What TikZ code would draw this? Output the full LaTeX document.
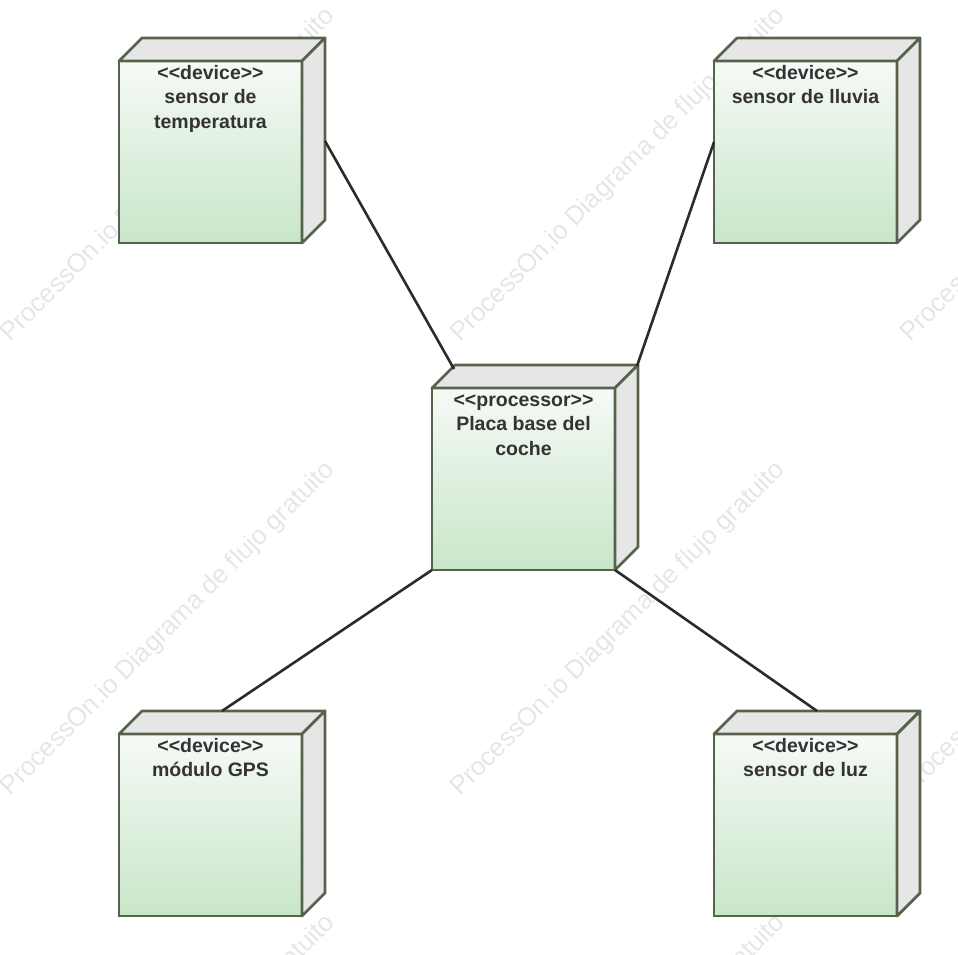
\documentclass[tikz,border=0pt]{standalone}
\usepackage{fontspec}
\setmainfont{Liberation Sans}[Ligatures=NoCommon]
\usetikzlibrary{calc}
\definecolor{bordc}{HTML}{56634C}
\definecolor{topg}{HTML}{F6FAF6}
\definecolor{botg}{HTML}{C8E6C9}
\definecolor{sidec}{HTML}{E6E6E6}
\definecolor{txtc}{HTML}{333333}
\definecolor{linec}{HTML}{2B2B2B}
\definecolor{wmc}{HTML}{E6E6E6}
\tikzset{
  front/.style={draw=bordc, line width=2.8pt, top color=topg, bottom color=botg,
    minimum width=183pt, minimum height=182pt, inner sep=0pt, outer sep=0pt, anchor=north west},
  face/.style={draw=bordc, line width=2.8pt, fill=sidec, line join=round},
  lbl/.style={text=txtc, font=\bfseries\fontsize{19.5}{24.5}\selectfont, align=center,
    anchor=north, inner sep=0pt},
  conn/.style={draw=linec, line width=2.6pt},
  wm/.style={text=wmc, font=\fontsize{26}{30}\selectfont, rotate=45, anchor=base west, inner sep=0pt}
}
\newcommand{\umlbox}[4]{%
  \node[front] (#1) at (#2,#3) {};
  \draw[face] (#1.north west) -- ++(23,-23) -- ($(#1.north east)+(23,-23)$) -- (#1.north east) -- cycle;
  \draw[face] (#1.north east) -- ++(23,-23) -- ($(#1.south east)+(23,-23)$) -- (#1.south east) -- cycle;
  \node[lbl] (#1l) at ($(#1.north)+(0,3)$) {\rule{0pt}{15pt}#4};
}
\begin{document}
\begin{tikzpicture}[x=1pt,y=-1pt]
\useasboundingbox (0,0) rectangle (958,955);
\begin{scope}
\clip (0,0) rectangle (958,955);
\foreach \wx/\wy [count=\i] in {10/343,460/343,910/343,10/797,460/797,910/797,10/1250,460/1250,910/1250}{
  \node[wm] (wm\i) at (\wx,\wy) {ProcessOn.io Diagrama de flujo gratuito};
}
\end{scope}
\umlbox{f1}{119}{61}{<{}<device>{}>\\sensor de\\temperatura}
\umlbox{f2}{714}{61}{<{}<device>{}>\\sensor de lluvia}
\umlbox{c}{432}{388}{<{}<processor>{}>\\Placa base del\\coche}
\umlbox{f3}{119}{734}{<{}<device>{}>\\módulo GPS}
\umlbox{f4}{714}{734}{<{}<device>{}>\\sensor de luz}
\draw[conn] ($(f1.east)+(23,-11)$) -- ($(c.north west)+(22,-19)$);
\draw[conn] ($(f2.west)+(0,-10)$) -- ($(c.north east)+(22,-22)$);
\draw[conn] (c.south west) -- ($(f3.north)+(11.5,-23)$);
\draw[conn] (c.south east) -- ($(f4.north)+(11.5,-23)$);
\end{tikzpicture}
\end{document}
